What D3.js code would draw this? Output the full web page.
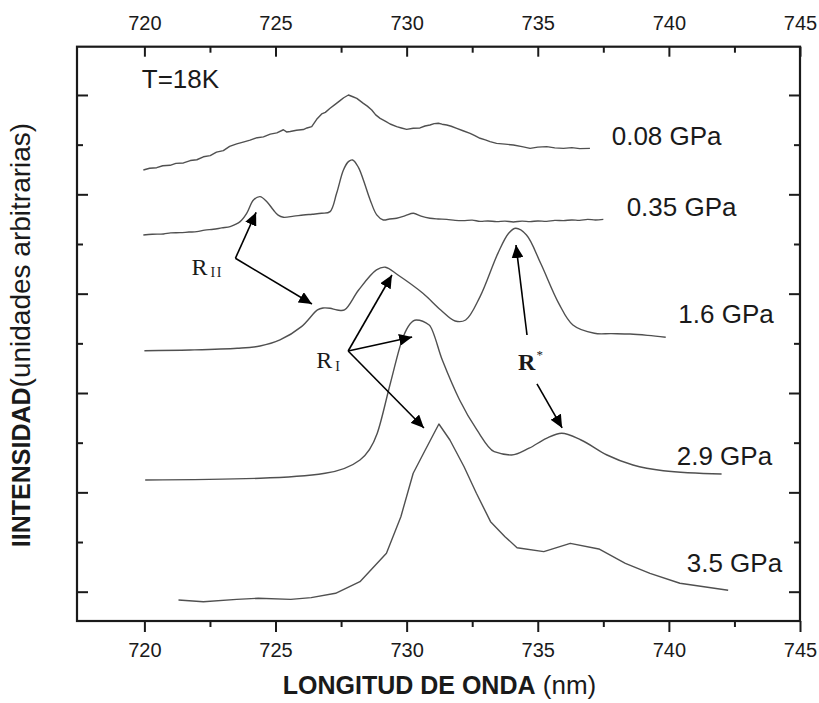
<!DOCTYPE html>
<html><head><meta charset="utf-8">
<script src="https://cdn.jsdelivr.net/npm/d3@7"></script>
<style>body{margin:0;background:#fff}</style>
</head><body>
<svg id="c" width="819" height="703"></svg>
<script>
// ---- data ----
const xTicksMajor = [720, 725, 730, 735, 740, 745];
const xTicksMinor = [722.5, 727.5, 732.5, 737.5, 742.5];
const yTicksMajor = [0, 1, 2, 3, 4, 5];
const yTicksMinor = [0.5, 1.5, 2.5, 3.5, 4.5];
const seriesNames = ["0.08 GPa", "0.35 GPa", "1.6 GPa", "2.9 GPa", "3.5 GPa"];

const s008 = [[719.96,4.245],[720.2,4.262],[720.47,4.268],[720.7,4.288],[720.98,4.292],[721.2,4.312],[721.49,4.316],[721.75,4.340],[722.00,4.348],[722.25,4.378],[722.51,4.390],[722.75,4.425],[723.01,4.440],[723.25,4.482],[723.52,4.508],[723.8,4.528],[724.03,4.545],[724.3,4.570],[724.54,4.578],[724.8,4.606],[725.05,4.618],[725.30,4.650],[725.42,4.628],[725.56,4.633],[725.8,4.645],[726.06,4.652],[726.2,4.668],[726.38,4.681],[726.57,4.755],[726.76,4.809],[726.9,4.825],[727.08,4.866],[727.25,4.900],[727.46,4.943],[727.6,4.972],[727.78,5.000],[727.95,4.982],[728.10,4.966],[728.35,4.916],[728.5,4.888],[728.67,4.849],[728.82,4.800],[728.99,4.765],[729.2,4.735],[729.37,4.708],[729.62,4.681],[729.8,4.668],[730.00,4.654],[730.25,4.665],[730.51,4.668],[730.7,4.688],[730.89,4.698],[731.05,4.712],[731.21,4.715],[731.35,4.706],[731.53,4.698],[731.7,4.685],[731.91,4.664],[732.15,4.640],[732.42,4.614],[732.6,4.590],[732.80,4.564],[733.0,4.548],[733.18,4.530],[733.43,4.513],[733.75,4.505],[734.07,4.497],[734.4,4.480],[734.71,4.463],[735.0,4.475],[735.34,4.480],[735.65,4.468],[735.98,4.463],[736.3,4.470],[736.6,4.460],[736.99,4.463]];

const s035 = [[719.96,3.591],[720.3,3.598],[720.73,3.601],[721.0,3.612],[721.36,3.614],[721.7,3.620],[722.00,3.624],[722.3,3.640],[722.63,3.648],[722.95,3.662],[723.27,3.675],[723.45,3.695],[723.65,3.725],[723.90,3.809],[724.16,3.943],[724.41,3.977],[724.67,3.926],[724.92,3.842],[725.10,3.790],[725.30,3.769],[725.7,3.780],[726.06,3.792],[726.4,3.800],[726.76,3.809],[727.08,3.826],[727.33,4.010],[727.59,4.245],[727.78,4.329],[727.94,4.346],[728.16,4.272],[728.35,4.145],[728.61,3.944],[728.86,3.793],[729.11,3.742],[729.35,3.752],[729.62,3.759],[729.95,3.785],[730.26,3.809],[730.55,3.780],[730.89,3.759],[731.2,3.752],[731.53,3.748],[731.85,3.738],[732.16,3.735],[732.5,3.740],[732.8,3.728],[733.1,3.732],[733.43,3.725],[733.75,3.730],[734.07,3.722],[734.4,3.730],[734.71,3.725],[735.0,3.732],[735.34,3.728],[735.65,3.738],[735.98,3.735],[736.3,3.742],[736.6,3.738],[736.9,3.748],[737.2,3.742],[737.50,3.748]];

const s16 = [[720.00,2.426],[721.74,2.433],[723.54,2.450],[724.41,2.473],[725.17,2.534],[725.99,2.668],[726.60,2.836],[726.81,2.856],[727.08,2.853],[727.35,2.836],[727.63,2.836],[728.17,3.037],[728.85,3.239],[729.19,3.266],[729.67,3.188],[730.62,3.004],[731.30,2.836],[731.85,2.725],[732.25,2.735],[732.80,2.970],[733.48,3.406],[733.89,3.608],[734.16,3.658],[734.57,3.591],[735.11,3.306],[735.80,2.903],[736.34,2.685],[737.16,2.601],[737.8,2.598],[738.52,2.594],[739.2,2.580],[739.88,2.561]];

const s29 = [[720.03,1.124],[724.42,1.142],[726.89,1.192],[728.22,1.326],[728.88,1.595],[729.38,2.098],[729.87,2.567],[730.37,2.735],[730.86,2.685],[731.36,2.332],[732.02,1.930],[732.68,1.628],[733.34,1.409],[734.00,1.376],[734.67,1.444],[735.33,1.544],[735.91,1.595],[736.65,1.527],[737.64,1.376],[738.63,1.275],[739.79,1.218],[742.01,1.185]];

const s35 = [[721.30,-0.084],[722.25,-0.101],[723.52,-0.077],[724.34,-0.066],[725.58,-0.077],[726.36,-0.060],[727.29,-0.016],[728.22,0.101],[729.23,0.387],[729.78,0.755],[730.25,1.192],[730.71,1.426],[731.23,1.688],[731.65,1.527],[732.19,1.258],[732.66,0.991],[733.20,0.705],[733.75,0.554],[734.21,0.443],[735.23,0.403],[736.24,0.487],[737.33,0.430],[738.34,0.286],[739.28,0.185],[740.42,0.085],[742.26,0.014]];

const series = [s008, s035, s16, s29, s35];

// annotation arrows: [from, to] in data units
const arrowsRII = [[[723.47,3.356],[724.26,3.819]], [[723.47,3.356],[726.39,2.896]]];
const arrowsRI = [[[727.77,2.423],[729.44,3.188]], [[727.77,2.423],[730.21,2.564]], [[727.77,2.423],[730.66,1.648]]];
const arrowsRs = [[[734.59,2.584],[734.17,3.490]], [[734.97,2.091],[735.93,1.648]]];

// ---- layout ----
const L = 77, R = 800, T = 46.7, B = 621;
const labelPos = [[737.82,4.497],[738.39,3.782],[740.36,2.708],[740.30,1.275],[740.68,0.201]];
const curveTypes = [d3.curveLinear, d3.curveCatmullRom.alpha(0.5), d3.curveCatmullRom.alpha(0.5), d3.curveMonotoneX, d3.curveLinear];

const svg = d3.select("#c");
const x = d3.scaleLinear().domain([717.43, 745]).range([L, R]);
const y = d3.scaleLinear().domain([-0.295, 5.486]).range([B, T]);
const FONT = "'Liberation Sans', Arial, Helvetica, sans-serif";
const SERIF = "'Liberation Serif', 'Times New Roman', serif";
const ink = "#1a1a1a";

function styleAxis(g, w) {
  g.select(".domain").remove();
  g.selectAll(".tick line").attr("stroke", ink).attr("stroke-width", w);
  g.selectAll(".tick text").attr("fill", ink).style("font-family", FONT).style("font-size", "20px");
}

// bottom axis (outward ticks)
svg.append("g").attr("transform", `translate(0,${B})`)
  .call(d3.axisBottom(x).tickValues(xTicksMajor).tickSize(11).tickPadding(10.5).tickFormat(d3.format("d")))
  .call(g => styleAxis(g, 2));
svg.append("g").attr("transform", `translate(0,${B})`)
  .call(d3.axisBottom(x).tickValues(xTicksMinor).tickSize(6).tickFormat(""))
  .call(g => styleAxis(g, 2));
// top axis (inward ticks)
svg.append("g").attr("transform", `translate(0,${T})`)
  .call(d3.axisTop(x).tickValues(xTicksMajor).tickSize(-10).tickPadding(17).tickFormat(d3.format("d")))
  .call(g => styleAxis(g, 2));
svg.append("g").attr("transform", `translate(0,${T})`)
  .call(d3.axisTop(x).tickValues(xTicksMinor).tickSize(-6).tickFormat(""))
  .call(g => styleAxis(g, 2));
// left & right (inward)
svg.append("g").attr("transform", `translate(${L},0)`)
  .call(d3.axisLeft(y).tickValues(yTicksMajor).tickSize(-11).tickFormat(""))
  .call(g => styleAxis(g, 2));
svg.append("g").attr("transform", `translate(${L},0)`)
  .call(d3.axisLeft(y).tickValues(yTicksMinor).tickSize(-6).tickFormat(""))
  .call(g => styleAxis(g, 2));
svg.append("g").attr("transform", `translate(${R},0)`)
  .call(d3.axisRight(y).tickValues(yTicksMajor).tickSize(-11).tickFormat(""))
  .call(g => styleAxis(g, 2));
svg.append("g").attr("transform", `translate(${R},0)`)
  .call(d3.axisRight(y).tickValues(yTicksMinor).tickSize(-6).tickFormat(""))
  .call(g => styleAxis(g, 2));

// frame
svg.append("rect").attr("x", L).attr("y", T).attr("width", R - L).attr("height", B - T)
  .attr("fill", "none").attr("stroke", ink).attr("stroke-width", 2.2);

// curves
svg.append("g").selectAll("path").data(series).join("path")
  .attr("d", (d, i) => d3.line().curve(curveTypes[i]).x(p => x(p[0])).y(p => y(p[1]))(d))
  .attr("fill", "none").attr("stroke", "#505050").attr("stroke-width", 1.4)
  .attr("stroke-linejoin", "round");

// series labels
svg.append("g").selectAll("text").data(seriesNames).join("text")
  .attr("x", (d, i) => x(labelPos[i][0])).attr("y", (d, i) => y(labelPos[i][1]))
  .text(d => d).attr("fill", ink).style("font-family", FONT).style("font-size", "26px");

// T=18K
svg.append("text").attr("x", x(719.90)).attr("y", y(5.067)).text("T=18K")
  .attr("fill", ink).style("font-family", FONT).style("font-size", "26px");

// arrow marker
svg.append("defs").append("marker").attr("id", "ah")
  .attr("markerUnits", "userSpaceOnUse").attr("markerWidth", 14).attr("markerHeight", 12)
  .attr("refX", 13).attr("refY", 6).attr("orient", "auto")
  .append("path").attr("d", "M0,0 L13,6 L0,12 Z").attr("fill", "#000");

const arrowG = svg.append("g");
[...arrowsRII, ...arrowsRI, ...arrowsRs].forEach(a => {
  arrowG.append("line")
    .attr("x1", x(a[0][0])).attr("y1", y(a[0][1]))
    .attr("x2", x(a[1][0])).attr("y2", y(a[1][1]))
    .attr("stroke", "#000").attr("stroke-width", 1.6).attr("marker-end", "url(#ah)");
});

// R labels
const rII = svg.append("text").attr("x", x(721.80)).attr("y", y(3.188))
  .attr("fill", ink).style("font-family", SERIF).style("font-size", "24px");
rII.append("tspan").text("R");
rII.append("tspan").attr("dx", 3).attr("dy", 2).style("font-size", "14px").style("letter-spacing", "1.5px").text("II");

const rI = svg.append("text").attr("x", x(726.55)).attr("y", y(2.252))
  .attr("fill", ink).style("font-family", SERIF).style("font-size", "24px");
rI.append("tspan").text("R");
rI.append("tspan").attr("dx", 3).attr("dy", 3).style("font-size", "14px").text("I");

const rS = svg.append("text").attr("x", x(734.25)).attr("y", y(2.232))
  .attr("fill", ink).style("font-family", SERIF).style("font-size", "24px").style("font-weight", "bold");
rS.append("tspan").text("R");
rS.append("tspan").attr("dx", 1).attr("dy", -11).style("font-size", "13px").style("font-weight", "normal").text("*");

// axis titles
const xt = svg.append("text").attr("x", (L + R) / 2 + 1).attr("y", 694).attr("text-anchor", "middle")
  .attr("fill", ink).style("font-family", FONT).style("font-size", "25px");
xt.append("tspan").style("font-weight", "bold").text("LONGITUD DE ONDA");
xt.append("tspan").style("font-size", "26px").text(" (nm)");

const yt = svg.append("text").attr("transform", `translate(30,${335}) rotate(-90)`).attr("text-anchor", "middle")
  .attr("fill", ink).style("font-family", FONT).style("font-size", "25px");
yt.append("tspan").style("font-weight", "bold").text("IINTENSIDAD");
yt.append("tspan").style("font-size", "28px").text("(unidades arbitrarias)");
</script>
</body></html>
